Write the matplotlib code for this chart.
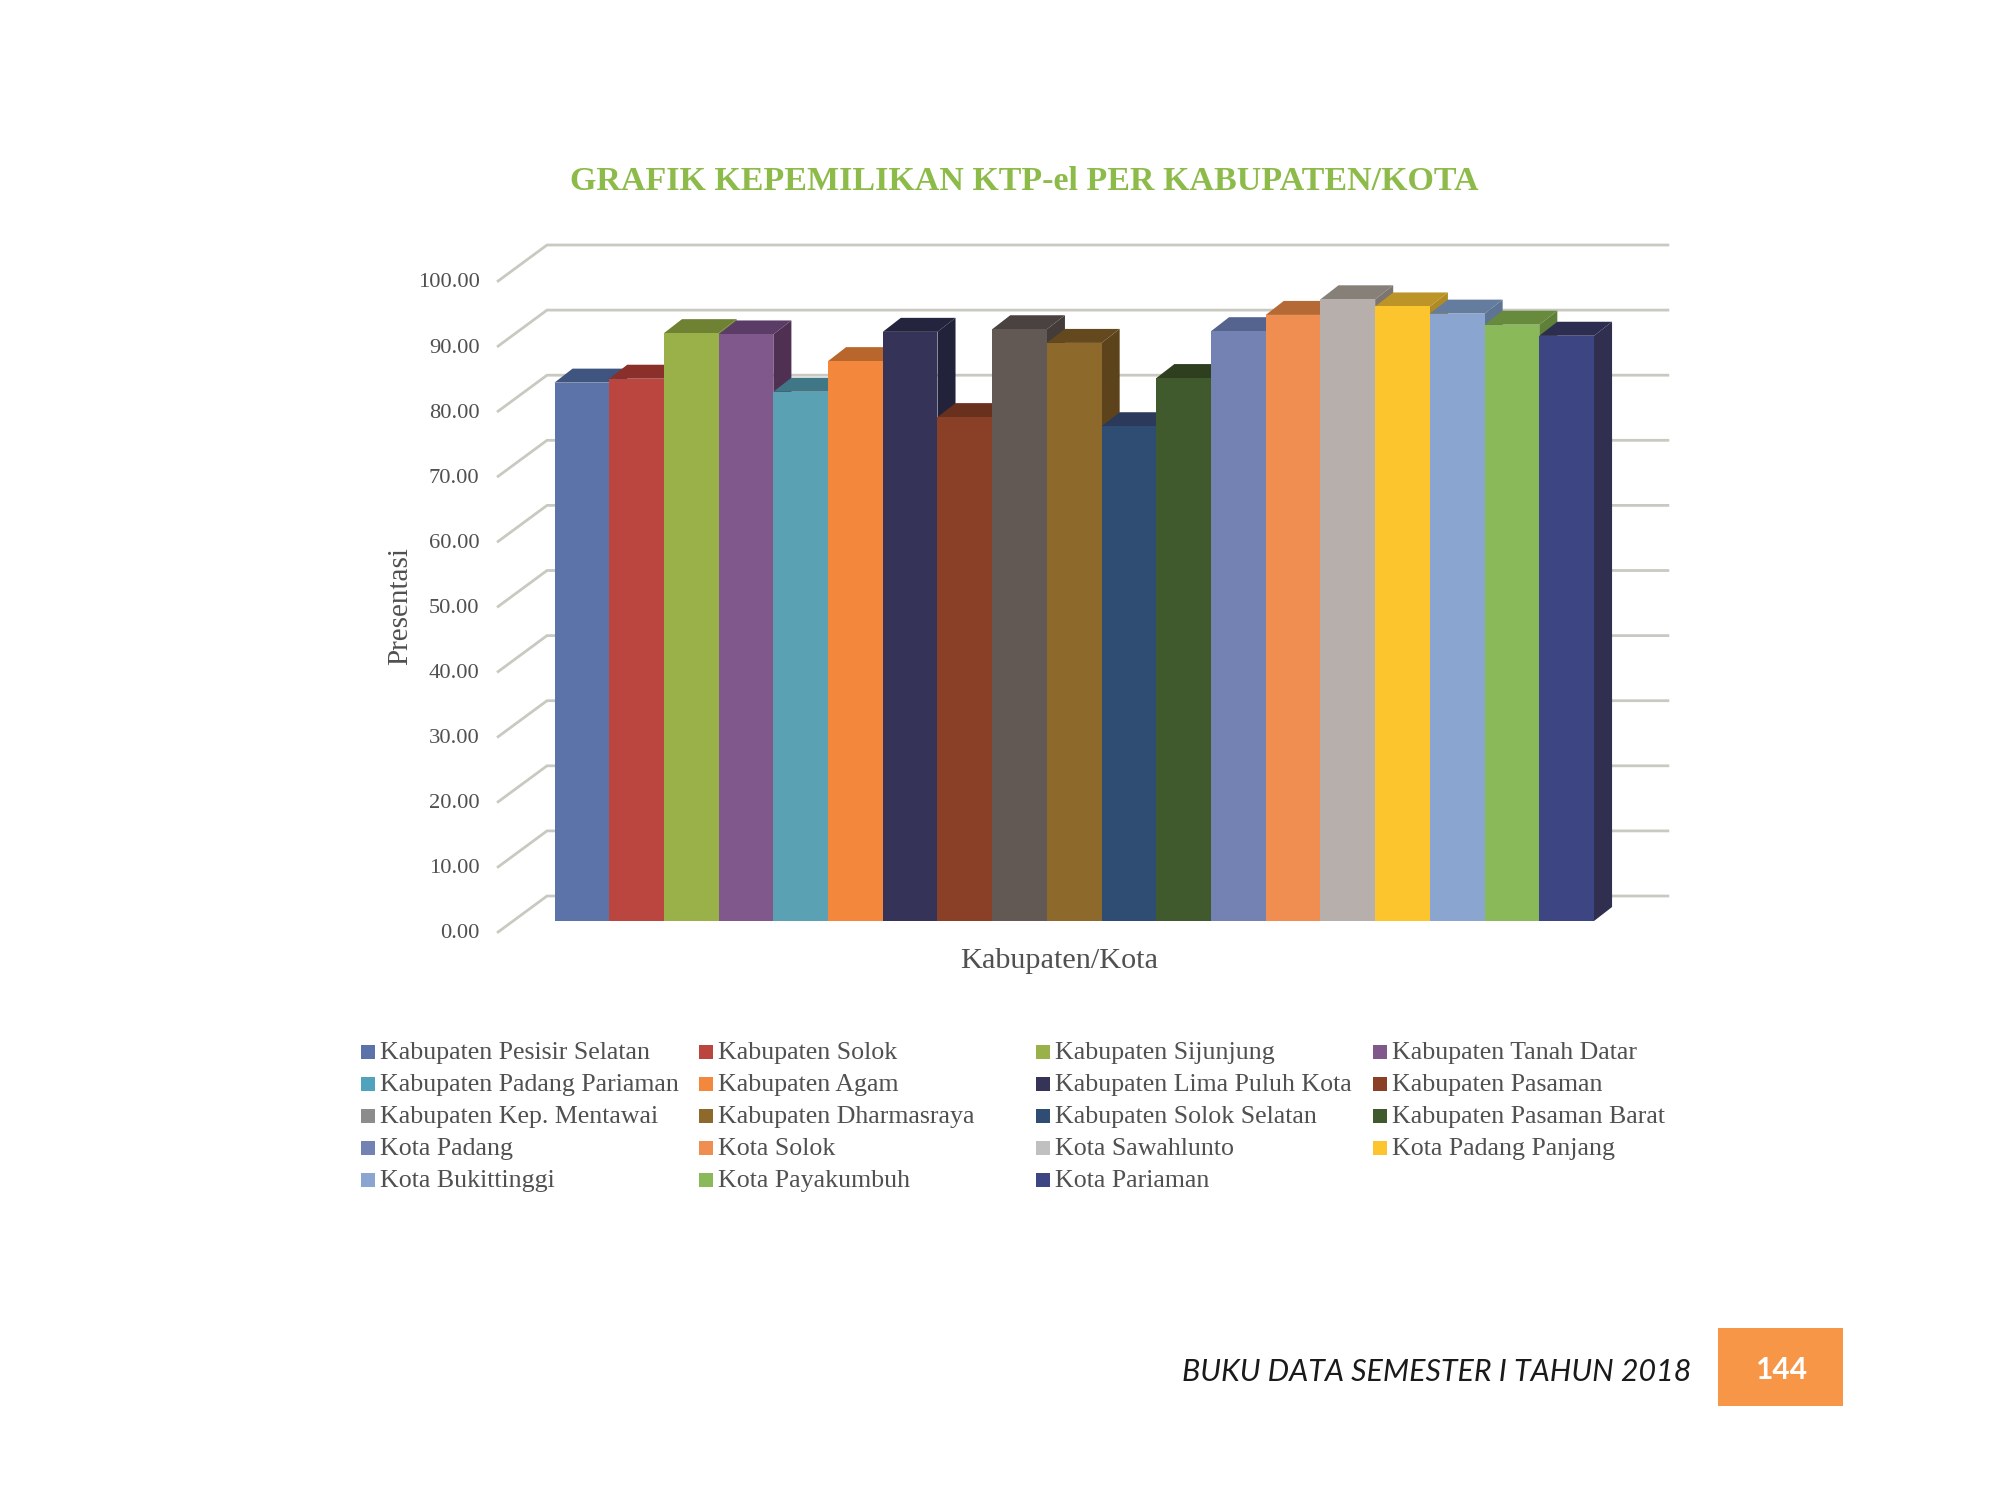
"""
plot.py

Grafik kepemilikan KTP-el per kabupaten/kota, drawn as a pseudo-3D bar chart.
"""
import matplotlib
matplotlib.use("Agg")
import matplotlib.pyplot as plt
from matplotlib.patches import Rectangle

names = ["Kabupaten Pesisir Selatan", "Kabupaten Solok", "Kabupaten Sijunjung", "Kabupaten Tanah Datar",
         "Kabupaten Padang Pariaman", "Kabupaten Agam", "Kabupaten Lima Puluh Kota", "Kabupaten Pasaman",
         "Kabupaten Kep. Mentawai", "Kabupaten Dharmasraya", "Kabupaten Solok Selatan", "Kabupaten Pasaman Barat",
         "Kota Padang", "Kota Solok", "Kota Sawahlunto", "Kota Padang Panjang",
         "Kota Bukittinggi", "Kota Payakumbuh", "Kota Pariaman"]
values = [82.7, 83.3, 90.3, 90.1, 81.3, 86.0, 90.5, 77.4, 90.9, 88.8,
          76.0, 83.4, 90.6, 93.1, 95.5, 94.4, 93.3, 91.6, 89.9]
front_colors = ["#5b73a8", "#bb453f", "#9ab048", "#81588c", "#5aa1b3", "#f3883d", "#353458", "#8a3f27", "#625854",
                "#8d692c", "#2f4c73", "#415a2d", "#7381b3", "#ef8e50", "#b7afab", "#fdc52d", "#8aa6d0", "#8ab95a",
                "#3d4683"]
top_colors = ["#3f5580", "#8a2f2a", "#6f8234", "#5b3c66", "#3f7786", "#b8662b", "#24243f", "#69301e", "#4a4240",
              "#65491e", "#2b3a5a", "#2e3f20", "#55648f", "#b56a36", "#878079", "#bc9428", "#647c9e", "#678a3d",
              "#2d2d52"]
side_colors = ["#3a4f78", "#822c27", "#67792f", "#4f3053", "#397080", "#ad5f28", "#22223b", "#5f2b1b", "#433c39",
               "#5c431b", "#263654", "#2a3a1d", "#4f5d86", "#a96331", "#7d7670", "#b08a24", "#5d7494", "#5f8038",
               "#302f4f"]
legend_colors = ["#5b73a8", "#bb453f", "#9ab048", "#81588c", "#4fa3bd", "#f3883d", "#353458", "#8a3f27", "#8c8c8c",
                 "#8d692c", "#2f4c73", "#415a2d", "#7381b3", "#ef8e50", "#c0c0c0", "#fdc52d", "#8aa6d0", "#8ab95a",
                 "#3d4683"]
ticks = [0, 10, 20, 30, 40, 50, 60, 70, 80, 90, 100]

W, H = 2000, 1500
SERIF = "Liberation Serif"
TEXT = "#505050"
GRID = "#c9c9c2"

# depth of the fake 3D, in data units (1 bar wide, 100 percent tall)
BAR_DX, BAR_DY = 0.33, 2.15
WALL_BACK_X0, WALL_BACK_X1 = -0.137, 20.35
WALL_FRONT_X = -1.03
WALL_BACK_DY, WALL_FRONT_DY = 3.84, -1.69

fig = plt.figure(figsize=(W / 100, H / 100), dpi=100, facecolor="white")
ax = fig.add_axes([554.5 / W, 1 - 921 / H, 1039.5 / W, 651 / H])
ax.set_xlim(0, 19)
ax.set_ylim(0, 100)
ax.axis("off")

# walls: gridlines run along the back and come forward on the left side
for t in ticks:
    ax.plot([WALL_FRONT_X, WALL_BACK_X0, WALL_BACK_X1],
            [t + WALL_FRONT_DY, t + WALL_BACK_DY, t + WALL_BACK_DY],
            color=GRID, lw=2.0, clip_on=False, zorder=1, solid_joinstyle="miter")
    ax.text(-1.37, t + WALL_FRONT_DY - 0.3, f"{t:.2f}", ha="right", va="center",
            family=SERIF, fontsize=16.2, color=TEXT, clip_on=False)

# left to right, so each bar hides the inner part of its neighbour's side and top
for i, v in enumerate(values):
    z = 10 + i
    ax.bar(i, v, width=1, align="edge", color=front_colors[i], lw=0, zorder=z + 0.5)
    ax.fill([i, i + 1, i + 1 + BAR_DX, i + BAR_DX], [v, v, v + BAR_DY, v + BAR_DY],
            color=top_colors[i], lw=0, clip_on=False, zorder=z)
    ax.fill([i + 1, i + 1 + BAR_DX, i + 1 + BAR_DX, i + 1], [0, BAR_DY, v + BAR_DY, v],
            color=side_colors[i], lw=0, clip_on=False, zorder=z)

fig.text(1024 / W, 1 - 182 / H, "GRAFIK KEPEMILIKAN KTP-el PER KABUPATEN/KOTA", ha="center", va="center",
         family=SERIF, fontweight="bold", fontsize=24.5, color="#8dbb4a")
fig.text(400 / W, 1 - 606 / H, "Presentasi", rotation=90, ha="center", va="center",
         family=SERIF, fontsize=21, color=TEXT)
fig.text(1059 / W, 1 - 961 / H, "Kabupaten/Kota", ha="center", va="center",
         family=SERIF, fontsize=21.8, color=TEXT)

# legend is filled row by row, so it is laid out by hand
col_x = [361, 699, 1036, 1373]
row_y = [1052, 1084, 1116, 1148, 1180]
for i, name in enumerate(names):
    x, y = col_x[i % 4], row_y[i // 4]
    fig.add_artist(Rectangle((x / W, 1 - (y + 7) / H), 14 / W, 14 / H, transform=fig.transFigure,
                             facecolor=legend_colors[i], lw=0))
    fig.text((x + 19) / W, 1 - (y + 1) / H, name, ha="left", va="center",
             family=SERIF, fontsize=18.6, color=TEXT)

# page footer
fig.text(1691 / W, 1 - 1372 / H, "BUKU DATA SEMESTER I TAHUN 2018", ha="right", va="center",
         family="Lato", style="italic", fontsize=21.9, color="#1a1a1a")
fig.add_artist(Rectangle((1718 / W, 1 - 1406 / H), 125 / W, 78 / H, transform=fig.transFigure,
                         facecolor="#f79646", lw=0))
fig.text(1781 / W, 1 - 1370 / H, "144", ha="center", va="center",
         family="Lato", fontweight="bold", fontsize=21.5, color="white")

fig.savefig("out.png", dpi=100)
